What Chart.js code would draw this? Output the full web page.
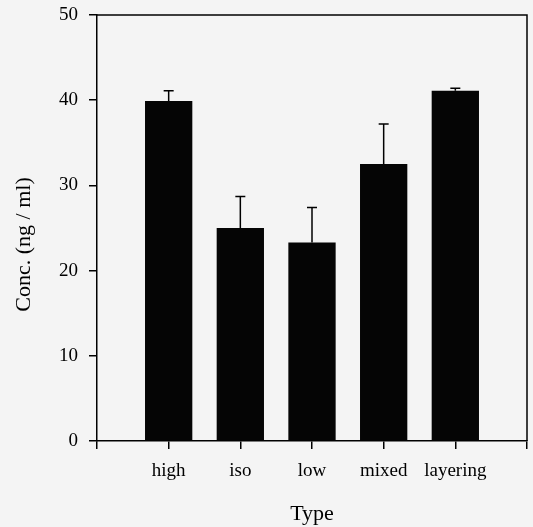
<!DOCTYPE html>
<html><head><meta charset="utf-8">
<script src="https://cdn.jsdelivr.net/npm/chart.js@4"></script>
<style>html,body{margin:0;padding:0;background:#f4f4f4;}#wrap{width:533px;height:527px;}</style>
</head><body><div id="wrap"><canvas id="c" width="533" height="527"></canvas></div>
<script>
const categories = ['high', 'iso', 'low', 'mixed', 'layering'];
const means = [39.9, 25.0, 23.3, 32.5, 41.1];
const errors = [1.2, 3.7, 4.1, 4.7, 0.3];
const yTicks = [0, 10, 20, 30, 40, 50];
const xTitle = 'Type';
const yTitle = 'Conc. (ng / ml)';

const labels = [''].concat(categories, ['']);
const values = [null].concat(means, [null]);
const FONT = "'Liberation Serif', 'Times New Roman', serif";

const errorBars = {
  id: 'errorBars',
  afterDatasetsDraw(chart) {
    const {ctx, scales: {x, y}} = chart;
    ctx.save();
    ctx.strokeStyle = '#000';
    ctx.lineWidth = 1.5;
    means.forEach((m, i) => {
      const px = x.getPixelForValue(i + 1);
      const yb = y.getPixelForValue(m);
      const yt = y.getPixelForValue(m + errors[i]);
      ctx.beginPath();
      ctx.moveTo(px, yb);
      ctx.lineTo(px, yt);
      ctx.moveTo(px - 5, yt);
      ctx.lineTo(px + 5, yt);
      ctx.stroke();
    });
    ctx.restore();
  }
};

const frame = {
  id: 'frame',
  afterDraw(chart) {
    const {ctx, chartArea: a} = chart;
    ctx.save();
    ctx.strokeStyle = '#000';
    ctx.lineWidth = 1.5;
    ctx.beginPath();
    ctx.moveTo(a.left, a.top);
    ctx.lineTo(a.right, a.top);
    ctx.lineTo(a.right, a.bottom);
    ctx.stroke();
    ctx.restore();
  }
};

new Chart(document.getElementById('c'), {
  type: 'bar',
  data: {
    labels: labels,
    datasets: [{
      data: values,
      backgroundColor: '#050505',
      borderWidth: 0,
      barPercentage: 0.66,
      categoryPercentage: 1
    }]
  },
  options: {
    responsive: false,
    animation: false,
    devicePixelRatio: 1,
    layout: {padding: {top: 15, right: 6, left: 0, bottom: 0}},
    plugins: {legend: {display: false}, tooltip: {enabled: false}},
    scales: {
      x: {
        offset: false,
        grid: {offset: false, drawOnChartArea: false, tickLength: 8, color: '#000', lineWidth: 1.5},
        border: {display: true, color: '#000', width: 1.5},
        ticks: {color: '#000', font: {family: FONT, size: 19}, padding: 11, maxRotation: 0, autoSkip: false},
        title: {display: true, text: xTitle, color: '#000', font: {family: FONT, size: 22}, padding: {top: 4, bottom: 0}},
        afterFit(s) { s.height = 86; s.paddingLeft = 0; s.paddingRight = 0; }
      },
      y: {
        min: 0, max: 50,
        afterBuildTicks(s) { s.ticks = yTicks.map(v => ({value: v})); },
        grid: {drawOnChartArea: false, tickLength: 8, color: '#000', lineWidth: 1.5},
        border: {display: true, color: '#000', width: 1.5},
        ticks: {color: '#000', font: {family: FONT, size: 19}, padding: 11},
        title: {display: true, text: yTitle + '\u00a0\u00a0\u00a0\u00a0\u00a0\u00a0', color: '#000', font: {family: FONT, size: 22}, padding: {top: 11, bottom: 0}},
        afterFit(s) { s.width = 97; s.paddingTop = 0; s.paddingBottom = 0; }
      }
    }
  },
  plugins: [errorBars, frame]
});
</script>
</body></html>
